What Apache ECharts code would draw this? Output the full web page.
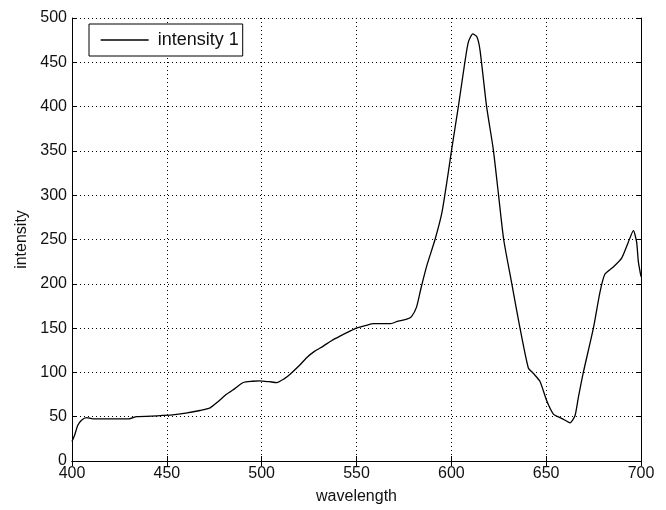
<!DOCTYPE html>
<html>
<head>
<meta charset="utf-8">
<script src="https://cdn.jsdelivr.net/npm/echarts@6/dist/echarts.min.js"></script>
<style>
html,body{margin:0;padding:0;background:#fff;}
#c{width:666px;height:510px;}
</style>
</head>
<body>
<div id="c"></div>
<script>
var seriesName = 'intensity 1';
var xTicks = [400, 450, 500, 550, 600, 650, 700];
var yTicks = [0, 50, 100, 150, 200, 250, 300, 350, 400, 450, 500];
var wavelength = [400,401.5,403,405,407.7,411,420,430,434,445,453,460,467.5,472.8,477,481.6,486,490.3,495,499,504,508,512,515,520,523.7,528,532.5,537,541.3,546,550,555,559,564,568,572,576.5,579,581.7,584,587,591.4,595,598,600.2,603.7,607.2,609,611.3,613.4,615.1,618.6,622.1,624.8,627.6,631.8,636.2,640.6,643.2,646.7,650.3,653.8,657.3,660,662.6,665.2,667,669.6,674.9,678.4,681,685.4,689.8,693.3,696,697.7,698.6,700];
var intensity = [22,30,40,46,49,47.5,47.5,47.5,50,51,52,54,57,60,67,75.5,82,88.6,90,90.5,89.5,88.5,93,98,108,116.6,124,129.7,136,141,146,150,153,155,155,155,158,160,163,174,195,220,250,280,320,352,400,451,473,482,479,464,400,352,302,250,201,150,105,99,90,68,53,49,46,43,51,72,100,150,191,211,219,229,247,260,247,225,208];

var pts = wavelength.map(function(w, i){ return [w, intensity[i]]; });
var font = 'Liberation Sans, Arial, sans-serif';
var chart = echarts.init(document.getElementById('c'), null, {renderer:'canvas'});
var axisLine = {show:true, lineStyle:{color:'#000', width:1}};
var tick = {show:true, inside:true, length:5, lineStyle:{color:'#000'}};
var grid = {show:true, lineStyle:{color:'#000', width:1, type:[1,3]}};
chart.setOption({
  backgroundColor:'#fff',
  animation:false,
  grid:{left:72, right:25, top:18, bottom:46},
  legend:{
    left:89, top:24,
    data:[{name:seriesName}],
    itemWidth:48, itemHeight:14,
    padding:[7,4,7,11],
    borderColor:'#000', borderWidth:1, borderRadius:0,
    backgroundColor:'#fff',
    itemStyle:{opacity:0},
    lineStyle:{color:'#000', width:1.3},
    textStyle:{fontFamily:font, fontSize:18, color:'#111', padding:[0,0,0,4]}
  },
  xAxis:[{
    type:'value', min:xTicks[0], max:xTicks[xTicks.length-1], interval:xTicks[1]-xTicks[0],
    name:'wavelength', nameLocation:'middle', nameGap:28,
    nameTextStyle:{fontFamily:font, fontSize:16, color:'#111'},
    axisLine:axisLine, axisTick:tick,
    axisLabel:{fontFamily:font, fontSize:16, color:'#111', margin:5},
    splitLine:grid
  },{
    type:'value', position:'top', min:xTicks[0], max:xTicks[xTicks.length-1], interval:xTicks[1]-xTicks[0],
    axisLine:axisLine, axisTick:tick, axisLabel:{show:false}, splitLine:{show:false}
  }],
  yAxis:[{
    type:'value', min:yTicks[0], max:yTicks[yTicks.length-1], interval:yTicks[1]-yTicks[0],
    name:'intensity', nameLocation:'middle', nameGap:42, nameRotate:90,
    nameTextStyle:{fontFamily:font, fontSize:16, color:'#111'},
    axisLine:axisLine, axisTick:tick,
    axisLabel:{fontFamily:font, fontSize:16, color:'#111', margin:5},
    splitLine:grid
  },{
    type:'value', position:'right', min:yTicks[0], max:yTicks[yTicks.length-1], interval:yTicks[1]-yTicks[0],
    axisLine:axisLine, axisTick:tick, axisLabel:{show:false}, splitLine:{show:false}
  }],
  series:[{
    name:seriesName, type:'line', data:pts, symbol:'none', smooth:0.2,
    lineStyle:{color:'#000', width:1.3}, itemStyle:{color:'#000'}
  }]
});
</script>
</body>
</html>
